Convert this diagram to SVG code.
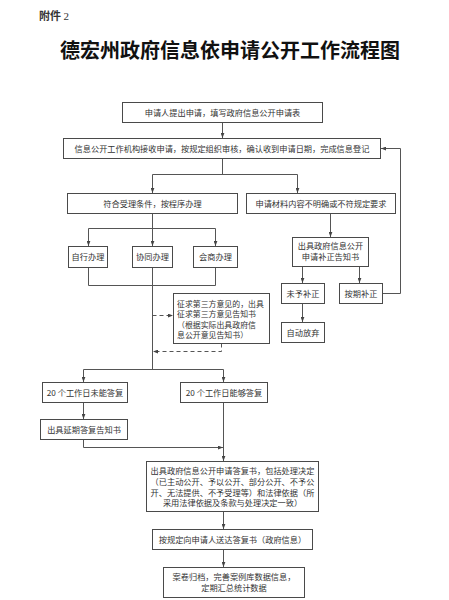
<svg xmlns="http://www.w3.org/2000/svg" width="449" height="600" viewBox="0 0 449 600">
<style>
.box{fill:#fff;stroke:#4a4a4a;stroke-width:1}
.t{font-family:"Noto Sans CJK SC","Noto Sans",sans-serif;font-size:8.2px;fill:#333;text-anchor:middle}
.tl{text-anchor:start}
.ln{stroke:#555;stroke-width:1;fill:none}
.dash{stroke-dasharray:4 3}
.arr{marker-end:url(#ah)}
</style>
<defs>
<marker id="ah" viewBox="0 0 8 6" refX="8" refY="3" markerWidth="5" markerHeight="4" markerUnits="userSpaceOnUse" orient="auto">
<path d="M0,0 L8,3 L0,6 z" fill="#444"/>
</marker>
</defs>
<rect width="449" height="600" fill="#fff"/>
<text x="39" y="20" style="font-family:'Noto Sans CJK SC',sans-serif;font-size:11px;font-weight:bold;fill:#333">附件 <tspan style="font-family:'Liberation Serif',serif;font-weight:normal">2</tspan></text>
<text x="230" y="58" style="font-family:'Noto Sans CJK SC',sans-serif;font-size:20px;font-weight:bold;fill:#111;text-anchor:middle">德宏州政府信息依申请公开工作流程图</text>

<g id="connectors">
<path class="ln arr" d="M222.5,122.5 V138"/>
<path class="ln" d="M222.5,158.5 V174.5 M152.5,174.5 H297.5"/>
<path class="ln arr" d="M152.5,174.5 V193"/>
<path class="ln arr" d="M297.5,174.5 V193"/>
<path class="ln" d="M152.5,213.5 V228.5 M88.5,228.5 H215.5"/>
<path class="ln arr" d="M88.5,228.5 V246"/>
<path class="ln arr" d="M152.5,228.5 V246"/>
<path class="ln arr" d="M215.5,228.5 V246"/>
<path class="ln" d="M88.5,267.5 V285.5 H215.5 V267.5 M152.5,267.5 V369.5 M83.5,369.5 H223.5"/>
<path class="ln dash arr" d="M152.5,315.5 H173"/>
<path class="ln dash arr" d="M221.5,343.5 V351.5 H153"/>
<path class="ln arr" d="M83.5,369.5 V382"/>
<path class="ln arr" d="M223.5,369.5 V382"/>
<path class="ln arr" d="M83.5,402.5 V419"/>
<path class="ln arr" d="M83.5,439.5 V447.5 H223"/>
<path class="ln arr" d="M223.5,402.5 V461"/>
<path class="ln arr" d="M223.5,511.5 V529"/>
<path class="ln arr" d="M223.5,549.5 V567"/>
<path class="ln arr" d="M330.5,213.5 V237"/>
<path class="ln arr" d="M302.5,266.5 V283"/>
<path class="ln arr" d="M359.5,266.5 V283"/>
<path class="ln arr" d="M302.5,303.5 V322"/>
<path class="ln arr" d="M382.5,293.5 H400.5 V148.5 H381"/>
</g>

<g id="n1"><rect class="box" x="122.5" y="102.5" width="200" height="20"/><text class="t" x="222.5" y="115.5">申请人提出申请，填写政府信息公开申请表</text></g>
<g id="n2"><rect class="box" x="63.5" y="138.5" width="317" height="20"/><text class="t" x="222" y="151.5">信息公开工作机构接收申请，按规定组织审核，确认收到申请日期，完成信息登记</text></g>
<g id="n3"><rect class="box" x="67.5" y="193.5" width="170" height="20"/><text class="t" x="152.5" y="206.5">符合受理条件，按程序办理</text></g>
<g id="n4"><rect class="box" x="246.5" y="193.5" width="149" height="20"/><text class="t" x="321" y="206.5">申请材料内容不明确或不符规定要求</text></g>
<g id="n5"><rect class="box" x="68.5" y="246.5" width="39" height="21"/><text class="t" x="88" y="260">自行办理</text></g>
<g id="n6"><rect class="box" x="132.5" y="246.5" width="40" height="21"/><text class="t" x="152.5" y="260">协同办理</text></g>
<g id="n7"><rect class="box" x="193.5" y="246.5" width="44" height="21"/><text class="t" x="215.5" y="260">会商办理</text></g>
<g id="n8"><rect class="box" x="292.5" y="237.5" width="76" height="29"/><text class="t" x="330.5" y="249">出具政府信息公开</text><text class="t" x="330.5" y="260">申请补正告知书</text></g>
<g id="n9"><rect class="box" x="281.5" y="283.5" width="43" height="20"/><text class="t" x="303" y="296.5">未予补正</text></g>
<g id="n10"><rect class="box" x="339.5" y="283.5" width="43" height="20"/><text class="t" x="361" y="296.5">按期补正</text></g>
<g id="n11"><rect class="box" x="281.5" y="322.5" width="43" height="20"/><text class="t" x="303" y="335.5">自动放弃</text></g>
<g id="n12"><rect class="box" x="173.5" y="293.5" width="96" height="50"/>
<text class="t tl" x="177" y="307" style="font-size:7.9px">征求第三方意见的，出具</text>
<text class="t tl" x="177" y="317" style="font-size:7.9px">征求第三方意见告知书</text>
<text class="t tl" x="177" y="327.5" style="font-size:7.9px">（根据实际出具政府信</text>
<text class="t tl" x="177" y="337.5" style="font-size:7.9px">息公开意见告知书）</text></g>
<g id="n13"><rect class="box" x="42.5" y="382.5" width="85" height="20"/><text class="t" x="85" y="395.5">20 个工作日未能答复</text></g>
<g id="n14"><rect class="box" x="180.5" y="382.5" width="87" height="20"/><text class="t" x="224" y="395.5">20 个工作日能够答复</text></g>
<g id="n15"><rect class="box" x="40.5" y="419.5" width="87" height="20"/><text class="t" x="84" y="432.5">出具延期答复告知书</text></g>
<g id="n16"><rect class="box" x="146.5" y="461.5" width="172" height="50"/>
<text class="t" x="232.5" y="473.5">出具政府信息公开申请答复书，包括处理决定</text>
<text class="t" x="232.5" y="484.5">（已主动公开、予以公开、部分公开、不予公</text>
<text class="t" x="232.5" y="495.5">开、无法提供、不予受理等）和法律依据（所</text>
<text class="t" x="232.5" y="506">采用法律依据及条款与处理决定一致）</text></g>
<g id="n17"><rect class="box" x="152.5" y="529.5" width="160" height="20"/><text class="t" x="232.5" y="542.5">按规定向申请人送达答复书（政府信息）</text></g>
<g id="n18"><rect class="box" x="163.5" y="567.5" width="141" height="30"/><text class="t" x="234" y="579.5">案卷归档，完善案例库数据信息，</text><text class="t" x="234" y="590.5">定期汇总统计数据</text></g>
</svg>
